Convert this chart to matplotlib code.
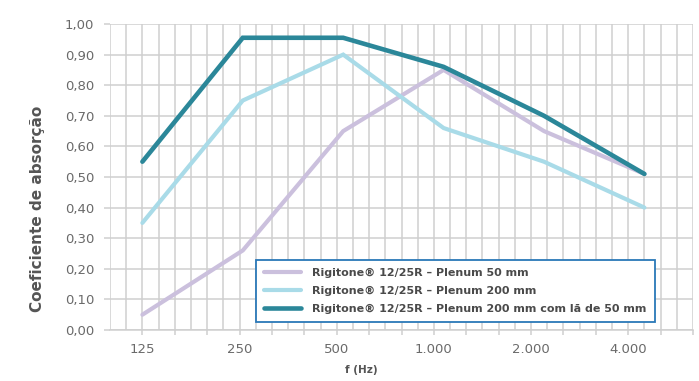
import numpy as np
import matplotlib
matplotlib.use("Agg")
import matplotlib.pyplot as plt

# ── Dados ──────────────────────────────────────────────────────────────────────
freqs = ["125", "250", "500", "1.000", "2.000", "4.000"]
plenum_50 = [0.05, 0.26, 0.65, 0.85, 0.65, 0.51]
plenum_200 = [0.35, 0.75, 0.90, 0.66, 0.55, 0.40]
plenum_200_la = [0.55, 0.955, 0.955, 0.86, 0.70, 0.51]
labels = [
    "Rigitone® 12/25R – Plenum 50 mm",
    "Rigitone® 12/25R – Plenum 200 mm",
    "Rigitone® 12/25R – Plenum 200 mm com lã de 50 mm",
]
y_ticks = [0.0, 0.1, 0.2, 0.3, 0.4, 0.5, 0.6, 0.7, 0.8, 0.9, 1.0]

# ── Estilo ─────────────────────────────────────────────────────────────────────
COLORS = ["#cbc0dd", "#a9dbe8", "#2b8799"]
WIDTHS = [3.0, 3.0, 3.3]
GRID = "#cfcfcf"
TXT = "#6a6a6a"

# eixo x em "células" da grelha: 6 células por oitava, 125 Hz na célula 2
tick_x = 2 + 6 * np.arange(len(freqs))
data_x = 2 + 6.2 * np.arange(len(freqs))

plt.rcParams["font.family"] = ["DejaVu Sans"]

fig = plt.figure(figsize=(6.99, 3.81), dpi=100)
ax = fig.add_axes([110 / 699, 51 / 381, 583 / 699, 306 / 381])

for ys, c, lw, lab in zip([plenum_50, plenum_200, plenum_200_la], COLORS, WIDTHS, labels):
    ax.plot(data_x, ys, color=c, lw=lw, label=lab, solid_capstyle="round",
            solid_joinstyle="miter", zorder=3)

ax.set_xlim(0, 36)
ax.set_ylim(0, 1.0)

# grelha
for gx in np.arange(0, 37):
    ax.axvline(gx, color=GRID, lw=1.1, zorder=1)
ax.set_yticks(y_ticks)
ax.set_yticklabels([f"{v:.2f}".replace(".", ",") for v in y_ticks])
ax.yaxis.grid(True, color=GRID, lw=1.1)
ax.set_axisbelow(True)

ax.set_xticks(tick_x)
ax.set_xticklabels(freqs)
ax.set_xticks(np.arange(2, 37, 2), minor=True)

ax.tick_params(axis="y", length=4.5, width=1.1, color=GRID, pad=7,
               labelsize=9.5, labelcolor=TXT)
ax.tick_params(axis="x", which="both", length=3.6, width=1.1, color=GRID,
               pad=6, labelsize=9.5, labelcolor=TXT)

for s in ["top", "right", "left"]:
    ax.spines[s].set_visible(False)
ax.spines["bottom"].set_color(GRID)
ax.spines["bottom"].set_linewidth(1.1)

fig.text(38 / 699, (381 - 209) / 381, "Coeficiente de absorção", rotation=90,
         ha="center", va="center", fontsize=11, fontweight="bold", color="#555555")
fig.text(361 / 699, 6 / 381, "f (Hz)", ha="center", va="bottom",
         fontsize=7.5, fontweight="bold", color="#555555")

leg = ax.legend(loc="lower left", bbox_to_anchor=(256 / 699, 59 / 381),
                bbox_transform=fig.transFigure, fancybox=False, framealpha=1,
                fontsize=8.0, handlelength=3.3, handletextpad=1.0,
                labelspacing=0.7, borderpad=0.75, borderaxespad=0)
leg.get_frame().set_edgecolor("#2a78b8")
leg.get_frame().set_linewidth(1.3)
for t in leg.get_texts():
    t.set_color("#4a4a4a")
    t.set_fontweight("semibold")
leg.set_zorder(5)

fig.savefig("out.png", dpi=100)
